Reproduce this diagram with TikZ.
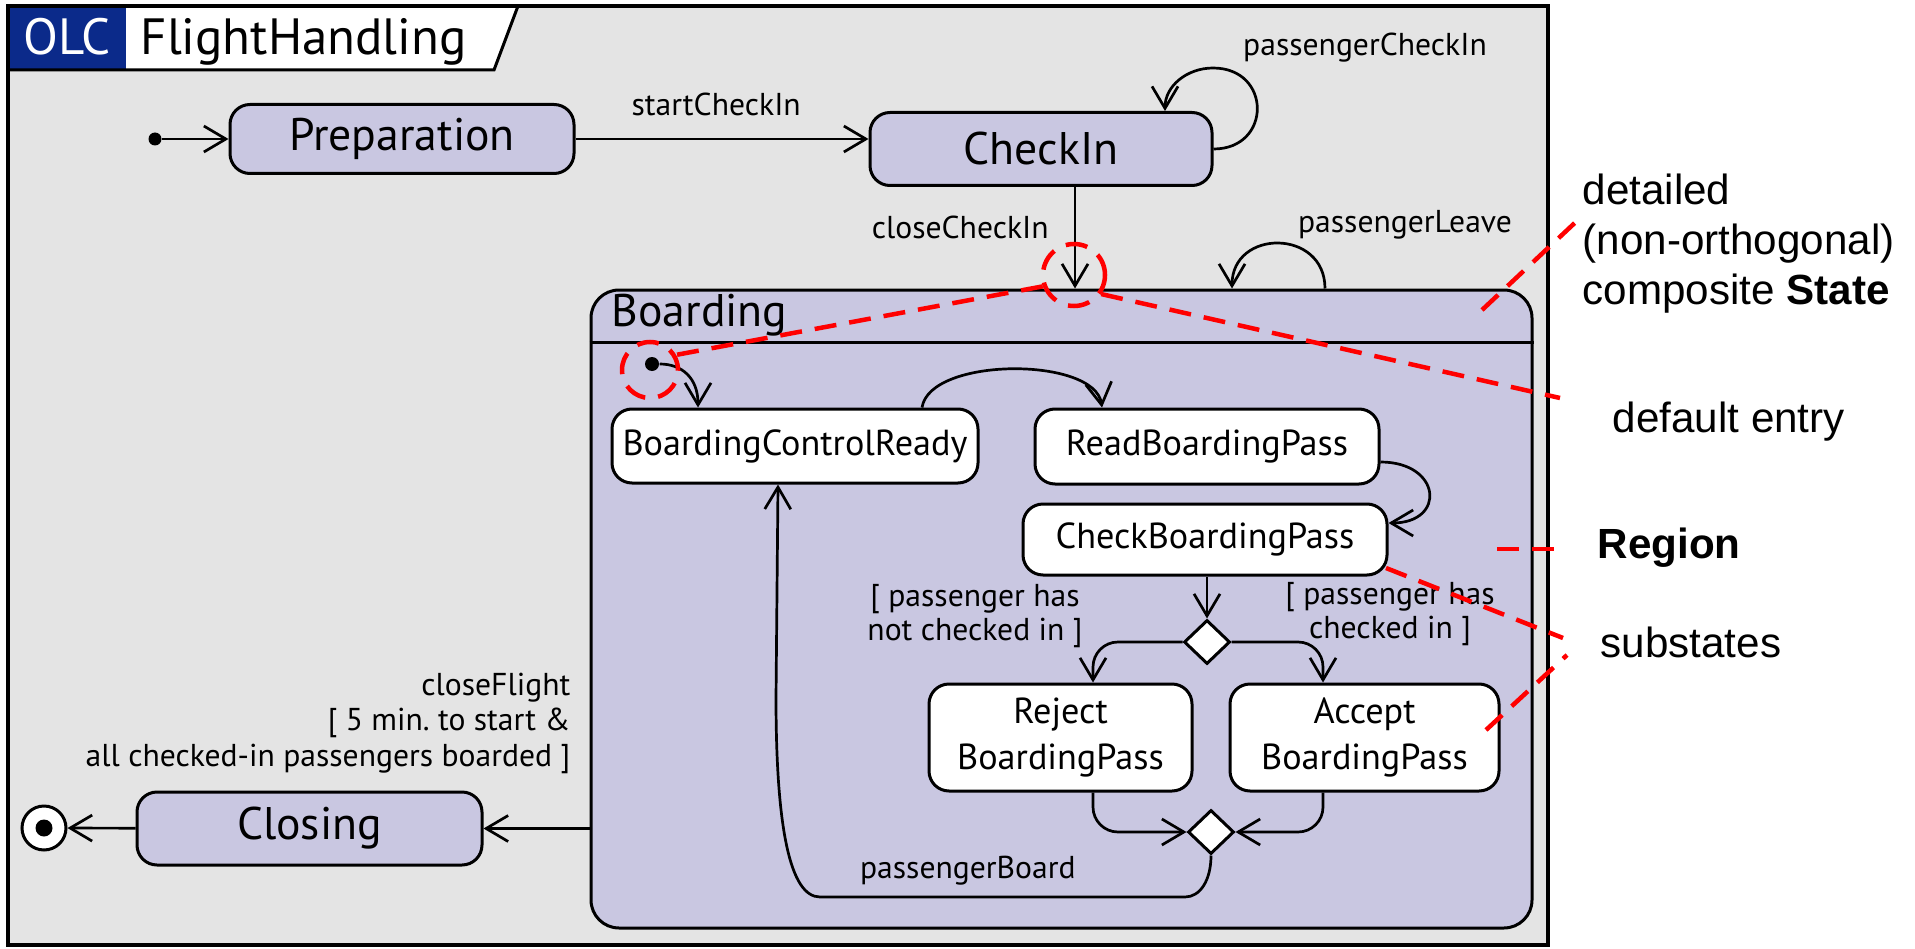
\documentclass[tikz,border=0pt]{standalone}
\usepackage{fontspec}
\setmainfont{PT Sans}
\newfontfamily\notefont{Liberation Sans}
\usetikzlibrary{arrows.meta, positioning, shapes.geometric}
\definecolor{framegray}{HTML}{E4E4E4}
\definecolor{statefill}{HTML}{C9C7E1}
\definecolor{olcblue}{HTML}{0B2A8A}
\definecolor{hintred}{HTML}{FF0000}

\begin{document}
\begin{tikzpicture}[x=0.1mm, y=0.1mm, >={Straight Barb[length=2.2mm,width=2.6mm]},
    state/.style={draw, rounded corners=2mm, fill=statefill, line width=0.3mm, inner sep=0pt, font=\fontsize{13}{15}\selectfont},
    substate/.style={draw, rounded corners=2mm, fill=white, line width=0.3mm, inner sep=0pt, align=center, font=\fontsize{10.3}{13}\selectfont},
    choice/.style={draw, diamond, fill=white, line width=0.3mm, inner sep=0pt, minimum width=4.6mm, minimum height=4.4mm},
    dot/.style={circle, fill=black, inner sep=0pt, minimum size=1.3mm},
    tr/.style={->, line width=0.27mm},
    lbl/.style={inner sep=0pt, align=center, font=\fontsize{9}{10}\selectfont},
    hint/.style={draw=hintred, line width=0.45mm, dash pattern=on 2.2mm off 1.3mm},
    note/.style={inner sep=0pt, align=left, font=\notefont\fontsize{12}{14.2}\selectfont}]
  \useasboundingbox (0,0) rectangle (1915,948);

  % frame and name tab
  \fill[framegray] (8,3) rectangle (1548,942);
  \fill[white] (126,942) -- (518,942) -- (494,878) -- (126,878) -- cycle;
  \fill[olcblue] (8,878) rectangle (126,942);
  \draw[line width=0.3mm] (8,878) -- (494,878) -- (518,942);
  \draw[line width=0.4mm] (8,3) rectangle (1548,942);
  \node[text=white, inner sep=0pt, anchor=base, font=\fontsize{14.5}{16}\selectfont] (olc) at (67,893) {OLC};
  \node[inner sep=0pt, anchor=base west, font=\fontsize{14.5}{16}\selectfont] (olcname) at (140,893) {FlightHandling};

  % top level states
  \node[dot] (init) at (155,809) {};
  \node[state, minimum width=34.4mm, minimum height=6.9mm] (prep) at (402,809) {Preparation};
  \node[state, minimum width=34.2mm, minimum height=7.3mm] (checkin) at (1041,799) {CheckIn};
  \node[state, minimum width=94.1mm, minimum height=63.8mm, rounded corners=2.8mm] (boarding) at (1061.5,339) {};
  \draw[line width=0.3mm] ([yshift=-5.4mm]boarding.north west) -- ([yshift=-5.4mm]boarding.north east);
  \node[inner sep=0pt, anchor=west, font=\fontsize{13}{15}\selectfont] (boardingname) at (611,633) {Boarding};
  \node[state, minimum width=34.5mm, minimum height=7.3mm] (closing) at (309.5,119.5) {Closing};
  \node[circle, draw, fill=white, line width=0.3mm, inner sep=0pt, minimum size=4.4mm] (final) at (44,120) {};
  \fill (final) circle (0.85mm);

  % substates of Boarding
  \node[dot, minimum size=1.4mm] (entry) at (652,584) {};
  \node[substate, minimum width=36.6mm, minimum height=7.4mm] (bcr) at (795,502) {BoardingControlReady};
  \node[substate, minimum width=34.4mm, minimum height=7.5mm] (rbp) at (1207,501.5) {ReadBoardingPass};
  \node[substate, minimum width=36.4mm, minimum height=7.1mm] (cbp) at (1205,408.5) {CheckBoardingPass};
  \node[choice] (split) at (1207,306) {};
  \node[substate, minimum width=26.3mm, minimum height=10.7mm] (reject) at (1060.5,210.5) {Reject\\BoardingPass};
  \node[substate, minimum width=26.9mm, minimum height=10.7mm] (accept) at (1364.5,210.5) {Accept\\BoardingPass};
  \node[choice] (merge) at (1211,116) {};

  % transitions
  \draw[tr] (init) -- (prep);
  \draw[tr] (prep) -- (prep -| checkin.west) node[lbl, pos=0.48, above=2.2mm] (lblstart) {startCheckIn};
  \draw[tr] (checkin.east) .. controls (1272,799) and (1272,880) .. (1213,880) .. controls (1187,880) and (1165,862) .. ([xshift=12.4mm]checkin.north);
  \node[lbl] (lblpcheckin) at (1365,900) {passengerCheckIn};
  \draw[tr] ([xshift=3.4mm]checkin.south) -- ([xshift=3.4mm]checkin.south |- boarding.north) node[lbl, pos=0.4, left=2.5mm] (lblclosecheckin) {closeCheckIn};
  \draw[tr] ([xshift=26.35mm]boarding.north) .. controls +(0,60) and +(0,60) .. ([xshift=17.05mm]boarding.north);
  \node[lbl] (lblleave) at (1405,723) {passengerLeave};
  \draw[tr] (entry) .. controls (682,584) and (698,570) .. ([xshift=-9.7mm]bcr.north);
  \draw[tr] ([xshift=12.7mm]bcr.north) .. controls +(8,51) and +(-7,51) .. ([xshift=-10.5mm]rbp.north);
  \draw[tr] ([yshift=-1.55mm]rbp.east) .. controls +(61,0) and +(58,0) .. ([yshift=1.65mm]cbp.east);
  \draw[tr] (cbp.south -| split.north) -- (split.north);
  \draw[tr, rounded corners=2.5mm] (split.west) -| ([xshift=3.25mm]reject.north);
  \draw[tr, rounded corners=2.5mm] (split.east) -| ([xshift=-4.15mm]accept.north);
  \node[lbl, font=\fontsize{9}{9.7}\selectfont] (lblnot) at (975,332) {{[} passenger has\\not checked in {]}};
  \node[lbl, font=\fontsize{9}{9.7}\selectfont] (lblhas) at (1390,334) {{[} passenger has\\checked in {]}};
  \draw[tr, rounded corners=2.5mm] ([xshift=3.25mm]reject.south) |- (merge.west);
  \draw[tr, rounded corners=2.5mm] ([xshift=-4.15mm]accept.south) |- (merge.east);
  \draw[tr] (merge.south) .. controls +(0,-25) and +(15,0) .. (1185,51) -- (820,51) node[lbl, pos=0.595, above=1mm] (lblboard) {passengerBoard} .. controls (790,51) and (776,120) .. (776,250) -- ([xshift=-1.7mm]bcr.south);
  \draw[tr] (boarding.west |- closing) -- (closing.east);
  \node[lbl, align=right, anchor=east, font=\fontsize{9}{10.1}\selectfont] (lblclose) at (571,225) {closeFlight\\{[} 5 min.\ to start \&\\all checked-in passengers boarded {]}};
  \draw[tr] (closing) -- (final);

  % annotations
  \node[circle, hint, minimum size=6.2mm, inner sep=0pt] (ringtop) at (1074,673) {};
  \node[circle, hint, minimum size=5.6mm, inner sep=0pt] (ringentry) at (650,578) {};
  \coordinate (footcomposite) at (1482,638);
  \coordinate (tipcomposite) at (1580,730);
  \coordinate (tipentry) at (1560,550);
  \coordinate (footregion) at (1497,399);
  \coordinate (tipregion) at (1563,399);
  \coordinate (footsubup) at (1386,380);
  \coordinate (tipsubup) at (1563,310);
  \coordinate (footsubdown) at (1486,218);
  \coordinate (tipsubdown) at (1567,293);
  \draw[hint] (ringtop.200) -- (ringentry.30);
  \draw[hint] (ringtop.-35) -- (tipentry);
  \draw[hint] (footcomposite) -- (tipcomposite);
  \draw[hint] (footregion) -- (tipregion);
  \draw[hint] (footsubup) -- (tipsubup);
  \draw[hint] (footsubdown) -- (tipsubdown);
  \node[note, anchor=west] (notecomposite) at (1582,704) {detailed\\(non-orthogonal)\\composite \textbf{State}};
  \node[note, anchor=west] (noteentry) at (1612,526) {default entry};
  \node[note, anchor=west] (noteregion) at (1597,400) {\textbf{Region}};
  \node[note, anchor=west] (notesub) at (1600,306) {substates};
\end{tikzpicture}
\end{document}
